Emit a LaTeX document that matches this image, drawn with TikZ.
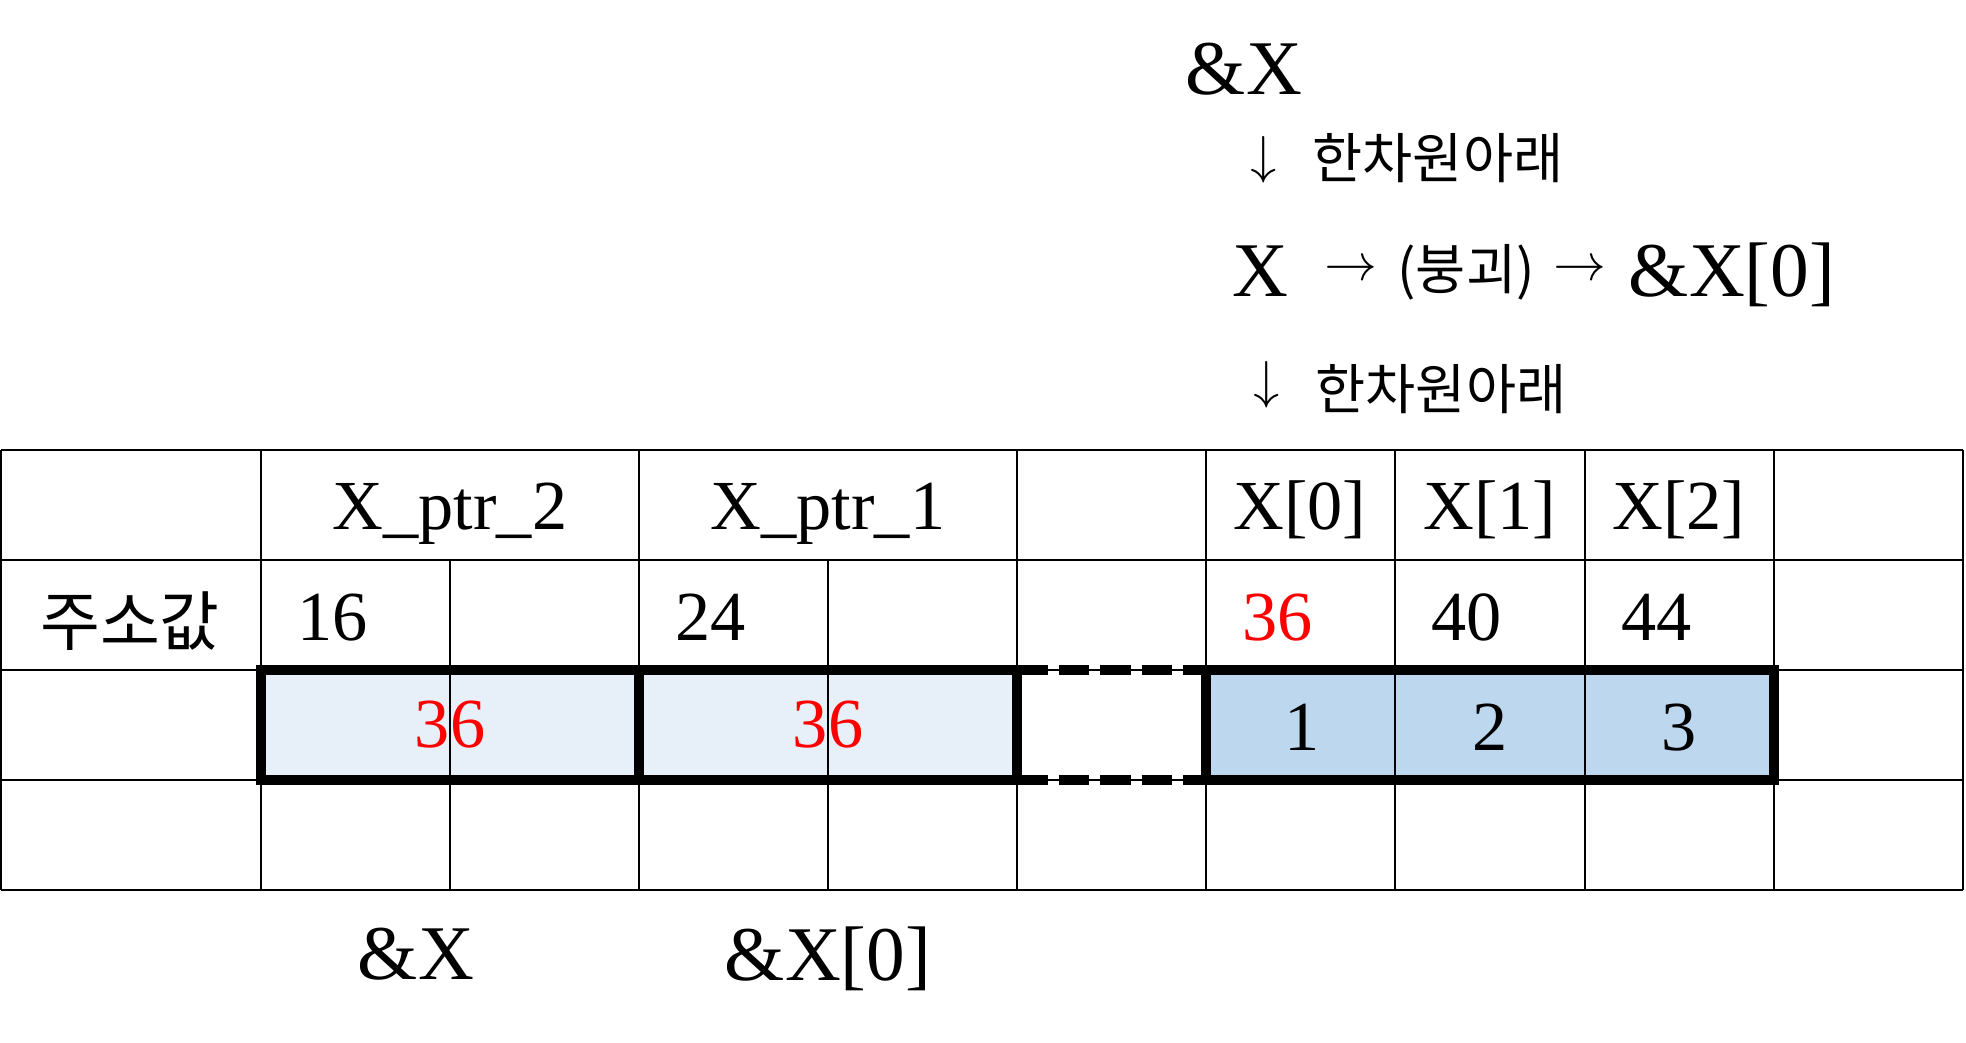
\documentclass[tikz,border=0pt]{standalone}
\usepackage{fontspec}
\setmainfont{Liberation Serif}
\newfontfamily\krfont{Noto Sans CJK KR}
\usepackage{unicode-math}
\usepackage{tikz}
\usetikzlibrary{positioning}
\definecolor{cellpale}{RGB}{231,239,248}
\definecolor{cellblue}{RGB}{189,215,238}
\tikzset{
    gridline/.style={draw=black, line width=0.45pt},
    boxline/.style={draw=black, line width=2.7pt},
    gapline/.style={draw=black, line width=2.7pt, dash pattern=on 8.8pt off 3pt},
    palecell/.style={fill=cellpale},
    bluecell/.style={fill=cellblue},
    txt/.style={inner sep=0pt, font=\fontsize{20}{24}\selectfont},
    bigtxt/.style={inner sep=0pt, anchor=base, font=\fontsize{22}{26}\selectfont},
    krtxt/.style={inner sep=0pt, font=\krfont\fontsize{15.5}{18}\selectfont},
    arrtxt/.style={inner sep=0pt, font=\fontsize{15}{18}\selectfont},
    addr/.style={txt, anchor=base west},
}

\begin{document}
\begin{tikzpicture}[x=0.01cm, y=-0.01cm]
	\useasboundingbox (0,0) rectangle (1966,1043);
	% memory cells
	\fill[palecell] (261,670) rectangle (1017,780);
	\fill[bluecell] (1206,670) rectangle (1774,780);
	\foreach \y in {450,560,670,780,890}
		\draw[gridline] (1,\y) -- (1963,\y);
	\foreach \x in {1,261,639,1017,1206,1395,1585,1774,1963}
		\draw[gridline] (\x,450) -- (\x,890);
	\foreach \x in {450,828}
		\draw[gridline] (\x,560) -- (\x,890);
	\draw[boxline] (261,670) rectangle (1017,780);
	\draw[boxline] (639,670) -- (639,780);
	\draw[boxline] (1206,670) rectangle (1774,780);
	\coordinate (gapnw) at (1017,670);
	\coordinate (gapne) at (1206,670);
	\coordinate (gapsw) at (1017,780);
	\coordinate (gapse) at (1206,780);
	\draw[gapline] (gapnw) -- (gapne);
	\draw[gapline] (gapsw) -- (gapse);
	% header row
	\node[txt, anchor=base] (ptrtwo) at (450,530) {X\_ptr\_2};
	\node[txt, anchor=base] (ptrone) at (828,530) {X\_ptr\_1};
	\node[txt, anchor=base] (xzero) at (1300,530) {X[0]};
	\node[txt, anchor=base] (xone) at (1490,530) {X[1]};
	\node[txt, anchor=base] (xtwo) at (1679,530) {X[2]};
	% addresses
	\node[krtxt, font=\krfont\fontsize{18.5}{22}\selectfont] (addrlabel) at (130,621) {주소값};
	\node[addr] (addrtwo) at (297,640) {16};
	\node[addr] (addrone) at (675,640) {24};
	\node[addr, text=red] (addrx) at (1242,640) {36};
	\node[addr] (addrxa) at (1431,640) {40};
	\node[addr] (addrxb) at (1621,640) {44};
	% values
	\node[txt, anchor=base, text=red] (valtwo) at (450,748) {36};
	\node[txt, anchor=base, text=red] (valone) at (828,748) {36};
	\node[txt, anchor=base] (valxa) at (1302,750) {1};
	\node[txt, anchor=base] (valxb) at (1490,750) {2};
	\node[txt, anchor=base] (valxc) at (1679,750) {3};
	% below the table
	\node[bigtxt] (refx) at (416,979) {\&X};
	\node[bigtxt] (refxz) at (828,980) {\&X[0]};
	% decay chain
	\node[bigtxt] (topx) at (1244,95) {\&X};
	\node[arrtxt] (downa) at (1264,160) {$\downarrow$};
	\node[krtxt] (dima) at (1438,158) {한차원아래};
	\node[bigtxt] (midx) at (1260,297) {X};
	\node[arrtxt] (righta) at (1351,267) {$\rightarrow$};
	\node[krtxt] (decay) at (1466,272) {(붕괴)};
	\node[arrtxt] (rightb) at (1580,267) {$\rightarrow$};
	\node[bigtxt] (midxz) at (1732,297) {\&X[0]};
	\node[arrtxt] (downb) at (1267,385) {$\downarrow$};
	\node[krtxt] (dimb) at (1441,389) {한차원아래};
\end{tikzpicture}
\end{document}
